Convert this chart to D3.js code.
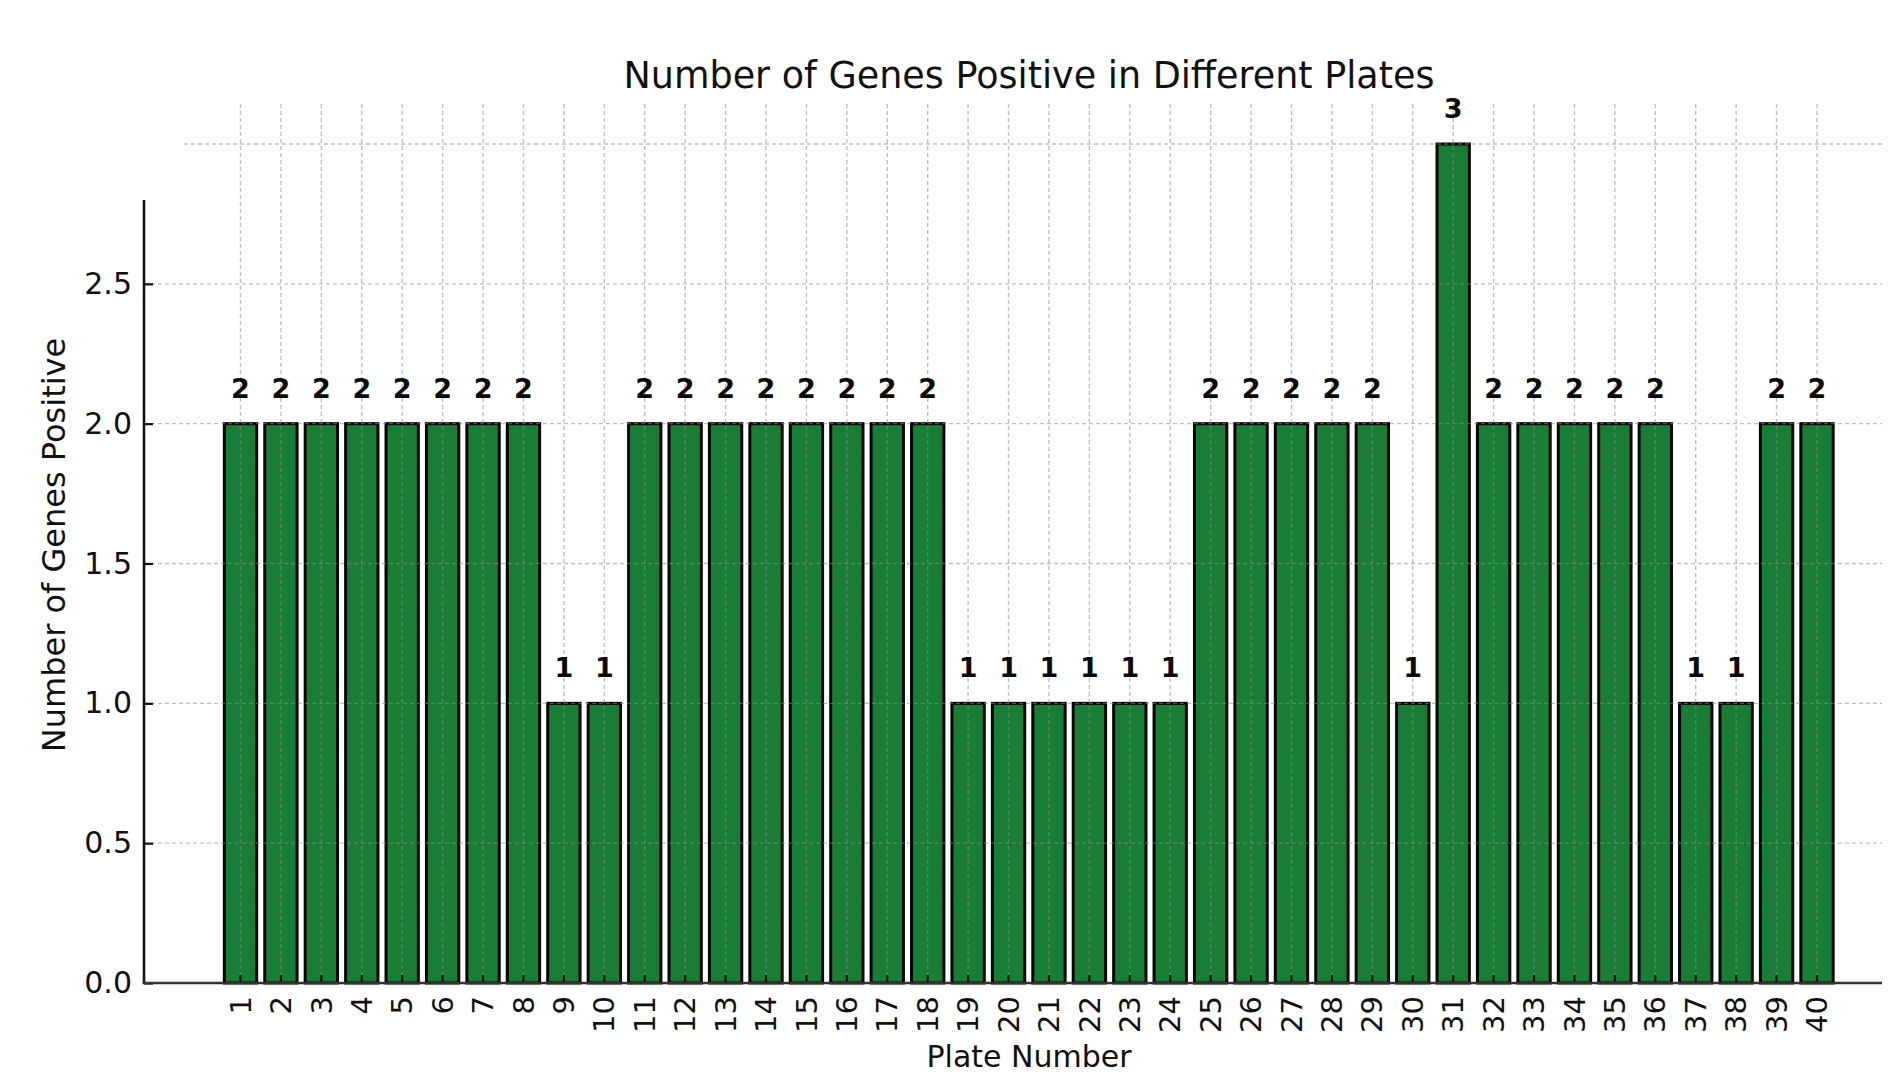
<!DOCTYPE html>
<html>
<head>
<meta charset="utf-8">
<script src="https://cdn.jsdelivr.net/npm/d3@7"></script>
<style>
  html, body { margin: 0; padding: 0; background: #ffffff; }
  svg { display: block; font-family: "DejaVu Sans", sans-serif; }
</style>
</head>
<body>
<svg id="chart" width="1900" height="1082"></svg>
<script>
// ---- data ----
const plates = d3.range(1, 41).map(String);
const genesPositive = [
  2, 2, 2, 2, 2, 2, 2, 2, 1, 1,
  2, 2, 2, 2, 2, 2, 2, 2, 1, 1,
  1, 1, 1, 1, 2, 2, 2, 2, 2, 1,
  3, 2, 2, 2, 2, 2, 1, 1, 2, 2
];
const yTickValues = [0, 0.5, 1.0, 1.5, 2.0, 2.5];
const yGridValues = [0.5, 1.0, 1.5, 2.0, 2.5, 3.0];
const titleText = "Number of Genes Positive in Different Plates";
const xLabelText = "Plate Number";
const yLabelText = "Number of Genes Positive";

const data = plates.map((p, i) => ({ plate: p, value: genesPositive[i] }));

// ---- layout ----
const svg = d3.select("#chart");
const axisLeftX = 144, axisRightX = 1882;
const y = d3.scaleLinear().domain([0, 3]).range([983, 144]);
const x = d3.scaleBand().domain(plates)
  .range([220.3, 1837.2]).paddingInner(0.2).paddingOuter(0.1);
const cx = d => x(d) + x.bandwidth() / 2;
const gridTop = 103;
const spineTopValue = 2.8;

// ---- bars ----
svg.append("g").selectAll("rect").data(data).join("rect")
  .attr("x", d => x(d.plate))
  .attr("width", x.bandwidth())
  .attr("y", d => y(d.value))
  .attr("height", d => y(0) - y(d.value))
  .attr("fill", "#1a7d35")
  .attr("stroke", "#050505")
  .attr("stroke-width", 3);

// ---- grid (drawn over bars, faint) ----
const grid = svg.append("g")
  .attr("stroke", "#8a8a8a")
  .attr("stroke-opacity", 0.55)
  .attr("stroke-width", 1.4)
  .attr("stroke-dasharray", "4,3");
grid.selectAll("line.v").data(plates).join("line").attr("class", "v")
  .attr("x1", d => cx(d)).attr("x2", d => cx(d))
  .attr("y1", y(0)).attr("y2", gridTop);
grid.selectAll("line.h").data(yGridValues).join("line").attr("class", "h")
  .attr("x1", d => d > spineTopValue ? 184 : axisLeftX)
  .attr("x2", axisRightX)
  .attr("y1", d => y(d)).attr("y2", d => y(d));

// ---- value labels ----
svg.append("g").selectAll("text").data(data).join("text")
  .attr("x", d => cx(d.plate))
  .attr("y", d => y(d.value) - 26)
  .attr("text-anchor", "middle")
  .attr("font-size", 27)
  .attr("font-weight", "bold")
  .attr("fill", "#0a0a0a")
  .text(d => d.value);

// ---- y axis ----
const yAxis = svg.append("g").attr("transform", `translate(${axisLeftX},0)`)
  .call(d3.axisLeft(y).tickValues(yTickValues).tickFormat(d3.format(".1f"))
    .tickSize(-9).tickPadding(12));
yAxis.select(".domain").remove();
yAxis.selectAll(".tick line").attr("stroke", "#111").attr("stroke-width", 2.2);
yAxis.selectAll(".tick text").attr("font-size", 30).attr("fill", "#111")
  .attr("font-family", "DejaVu Sans, sans-serif");
svg.append("line")
  .attr("x1", axisLeftX).attr("x2", axisLeftX)
  .attr("y1", y(0) + 1).attr("y2", y(spineTopValue))
  .attr("stroke", "#111").attr("stroke-width", 2.6);

// ---- x axis ----
const xAxis = svg.append("g").attr("transform", `translate(0,${y(0)})`)
  .call(d3.axisBottom(x).tickSize(-8).tickPadding(0));
xAxis.select(".domain").remove();
xAxis.selectAll(".tick line").attr("stroke", "#111").attr("stroke-width", 2.2);
xAxis.selectAll(".tick text")
  .attr("font-size", 29).attr("fill", "#111")
  .attr("font-family", "DejaVu Sans, sans-serif")
  .attr("transform", "rotate(-90)")
  .attr("text-anchor", "end")
  .attr("x", -13).attr("y", 0).attr("dy", "0.35em");
svg.append("line")
  .attr("x1", axisLeftX - 1.3).attr("x2", axisRightX)
  .attr("y1", y(0)).attr("y2", y(0))
  .attr("stroke", "#333").attr("stroke-width", 2.6);

// ---- titles ----
svg.append("text").attr("x", 1029).attr("y", 88)
  .attr("text-anchor", "middle").attr("font-size", 36.5).attr("fill", "#111")
  .text(titleText);
svg.append("text").attr("x", 1029).attr("y", 1067)
  .attr("text-anchor", "middle").attr("font-size", 30).attr("fill", "#111")
  .text(xLabelText);
svg.append("text").attr("transform", "translate(65,545) rotate(-90)")
  .attr("text-anchor", "middle").attr("font-size", 32).attr("fill", "#111")
  .text(yLabelText);
</script>
</body>
</html>
